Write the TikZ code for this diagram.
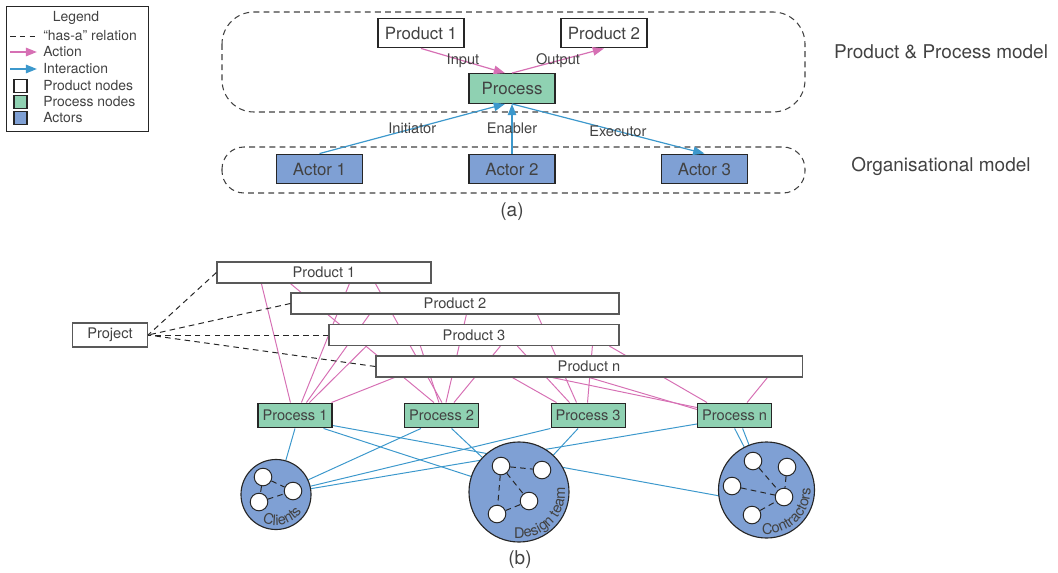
\documentclass[tikz,border=0pt]{standalone}
\usepackage{fontspec}
\setmainfont{TeX Gyre Heros}
\usetikzlibrary{arrows.meta,calc,positioning,decorations.text,backgrounds}

\definecolor{Pink}{RGB}{214,112,180}
\definecolor{Blue}{RGB}{60,152,204}
\definecolor{Green}{RGB}{143,209,178}
\definecolor{Steel}{RGB}{127,160,212}
\definecolor{Ink}{RGB}{66,66,66}

\newcommand\bigfnt{\fontsize{12}{14}\selectfont}
\newcommand\midfnt{\fontsize{10.4}{12.5}\selectfont}
\newcommand\legfnt{\fontsize{9.9}{12}\selectfont}
\newcommand\tagfnt{\fontsize{13.5}{16}\selectfont}

\tikzset{Product/.style={draw=black!85,line width=0.9pt,fill=white,minimum width=2.15cm,minimum height=0.74cm,inner sep=0pt,rectangle,text=Ink,font=\bigfnt}}
\tikzset{Process/.style={Product,fill=Green}}
\tikzset{Actor/.style={Product,fill=Steel}}
\tikzset{Bar/.style={draw=black!65,line width=0.8pt,fill=white,minimum height=0.525cm,inner sep=0pt,rectangle,text=Ink,font=\midfnt}}
\tikzset{Task/.style={draw=black!85,line width=0.8pt,fill=Green,minimum width=1.85cm,minimum height=0.62cm,inner sep=0pt,rectangle,text=Ink,font=\midfnt}}
\tikzset{Team/.style={draw=black!85,line width=0.8pt,fill=Steel,circle,inner sep=0pt}}
\tikzset{Member/.style={draw=black!85,line width=0.7pt,fill=white,circle,minimum size=0.44cm,inner sep=0pt}}
\tikzset{Group/.style={draw=black!75,dash pattern=on 4.2pt off 3pt,line width=0.75pt}}
\tikzset{Action/.style={draw=Pink,line width=0.85pt}}
\tikzset{Interaction/.style={draw=Blue,line width=0.85pt}}
\tikzset{HasA/.style={draw=black!85,dash pattern=on 4pt off 3pt,line width=0.7pt}}
\tikzset{Lbl/.style={text=Ink,font=\midfnt,inner sep=0pt}}
\tikzset{Leg/.style={text=Ink,font=\legfnt,inner sep=0pt,anchor=west}}
\tikzset{Tag/.style={text=Ink,font=\tagfnt,inner sep=0pt}}
\tikzset{Curved/.style={decorate,decoration={text along path,text align=center,text color=Ink,text={|\midfnt|#1}}}}

\begin{document}
\begin{tikzpicture}[x=0.025cm,y=-0.025cm,>={Triangle[length=8pt,width=6pt]}]
\useasboundingbox (0,0) rectangle (1058,572);

\node[draw=black!85,line width=0.7pt,minimum width=3.525cm,minimum height=3.1cm,inner sep=0pt] (leg) at (77.5,69) {};
\node[Leg,anchor=center] (legt) at (76,18) {Legend};
\node[Leg] (l1) at (43,36) {“has-a” relation};
\node[Leg] (l2) at (43,52) {Action};
\node[Leg] (l3) at (43,69) {Interaction};
\node[Leg] (l4) at (43,86) {Product nodes};
\node[Leg] (l5) at (43,102) {Process nodes};
\node[Leg] (l6) at (43,118) {Actors};
\draw[HasA] (10,36) -- +(27,0);
\draw[Action,line width=1.3pt,->] (10,52) -- +(27,0);
\draw[Interaction,line width=1.3pt,->] (10,69) -- +(27,0);
\node[draw=black!85,line width=0.8pt,fill=white,minimum size=0.325cm,inner sep=0pt] (k1) at (20.5,86) {};
\node[draw=black!85,line width=0.8pt,fill=Green,minimum size=0.325cm,inner sep=0pt] (k2) at (20.5,102) {};
\node[draw=black!85,line width=0.8pt,fill=Steel,minimum size=0.325cm,inner sep=0pt] (k3) at (20.5,118) {};

\draw[Group,rounded corners=0.8cm] (222,12) rectangle (805,112);
\draw[Group,rounded corners=0.55cm] (222,147) rectangle (805,193);

\node[Product] (p1) at (421,33) {Product 1};
\node[Product,node distance=4.575cm,right of=p1] (p2) {Product 2};
\node[Process] (pr) at (512,88.5) {Process};
\node[Actor] (a2) at (512,169) {Actor 2};
\node[Actor,node distance=4.81cm,left of=a2] (a1) {Actor 1};
\node[Actor,node distance=4.81cm,right of=a2] (a3) {Actor 3};

\draw[Action,->] (p1.south) -- node[Lbl] {Input} ($(pr.north)+(-7,0)$);
\draw[Action,->] (pr.north) -- node[Lbl] {Output} (p2.south);
\draw[Interaction,->] (a1.north) -- node[Lbl] {Initiator} ($(pr.south)+(-7,0)$);
\draw[Interaction,->] (a2.north) -- node[Lbl] {Enabler} (pr.south);
\draw[Interaction,->] (pr.south) -- node[Lbl,pos=0.55] {Executor} (a3.north);

\node[Tag] (mdl1) at (941,52) {Product \& Process model};
\node[Tag] (mdl2) at (941,166) {Organisational model};
\node[Tag] (capa) at (512,212) {(a)};

\node[Bar,minimum width=5.35cm] (q1) at (324,272.5) {Product 1};
\node[Bar,minimum width=8.2cm] (q2) at (455,303.5) {Product 2};
\node[Bar,minimum width=7.25cm] (q3) at (474,335) {Product 3};
\node[Bar,minimum width=10.65cm] (qn) at (589,366.5) {Product n};
\node[Bar,minimum width=1.875cm,minimum height=0.6cm] (proj) at (110,335) {Project};

\draw[HasA] (q1.west) -- (proj.east);
\draw[HasA] (q2.west) -- (proj.east);
\draw[HasA] (q3.west) -- (proj.east);
\draw[HasA] (qn.west) -- (proj.east);

\node[Task] (pc1) at (295,415.5) {Process 1};
\node[Task,node distance=3.6625cm,right of=pc1] (pc2) {Process 2};
\node[Task,node distance=3.6625cm,right of=pc2] (pc3) {Process 3};
\node[Task,node distance=3.6625cm,right of=pc3] (pcn) {Process n};

\node[Team,minimum size=1.75cm] (cl) at (276,494.5) {};
\node[Team,minimum size=2.5cm] (dt) at (519,492) {};
\node[Team,minimum size=2.4cm] (co) at (766.5,490) {};

\node[Member] (cl1) at ($(cl)+(-13,-17.5)$) {};
\node[Member] (cl2) at ($(cl)+(17,-3.5)$) {};
\node[Member] (cl3) at ($(cl)+(-17,7.5)$) {};
\draw[HasA] (cl1) -- (cl2);
\draw[HasA] (cl1) -- (cl3);
\draw[HasA] (cl3) -- (cl2);

\node[Member] (dt1) at ($(dt)+(-18,-26)$) {};
\node[Member] (dt2) at ($(dt)+(23,-22)$) {};
\node[Member] (dt3) at ($(dt)+(10,9)$) {};
\node[Member] (dt4) at ($(dt)+(-22,22)$) {};
\draw[HasA] (dt1) -- (dt2);
\draw[HasA] (dt1) -- (dt3);
\draw[HasA] (dt1) -- (dt4);
\draw[HasA] (dt4) -- (dt3);

\node[Member] (co1) at ($(co)+(-13.5,-29)$) {};
\node[Member] (co2) at ($(co)+(20.5,-23)$) {};
\node[Member] (co3) at ($(co)+(-34.5,-4)$) {};
\node[Member] (co4) at ($(co)+(17.5,7)$) {};
\node[Member] (co5) at ($(co)+(-14.5,25)$) {};
\foreach \m in {co1,co2,co3,co5}
  \draw[HasA] (\m) -- (co4);

\path[Curved=Clients] ($(cl)+(-140:0.775cm)$) arc[start angle=-140,end angle=-10,radius=0.775cm];
\path[Curved=Design team] ($(dt)+(-110:1.15cm)$) arc[start angle=-110,end angle=20,radius=1.15cm];
\path[Curved=Contractors] ($(co)+(-115:1.1cm)$) arc[start angle=-115,end angle=22,radius=1.1cm];

\node[Tag] (capb) at (520,560) {(b)};

\begin{pgfonlayer}{background}
\foreach \s/\a/\t/\b in {q1/45/pc1/33,q1/74/pc2/30,q1/133/pc1/44,q1/159/pc2/38,q2/79/pc1/49,q2/176/pc2/42,q2/247/pc3/26,q3/38/pc1/52,q3/92/pc2/35,q3/172/pc2/50,q3/189/pc3/19,q3/264/pc3/37,q3/281/pcn/10,qn/19/pc1/74,qn/137/pc3/6,qn/392/pcn/50}
  \draw[Action,line width=0.7pt] ($(\s.south west)+(\a,0)$) -- ($(\t.north west)+(\b,0)$);
\draw[Action,line width=0.7pt] ($(qn.south west)+(177,0)$) -- ($(pcn.north west)+(0,5)$);
\draw[Action,line width=0.7pt] ($(qn.south west)+(214,0)$) -- ($(pcn.north west)+(0,7)$);

\draw[Interaction,line width=0.7pt] (pc1.south) -- (cl);
\draw[Interaction,line width=0.7pt] ($(pc1.south east)+(-9,0)$) -- (dt);
\draw[Interaction,line width=0.7pt] ($(pc1.south east)+(0,-3)$) -- ($(co.west)+(2,6)$);
\draw[Interaction,line width=0.7pt] ($(pc2.south west)+(17,0)$) -- (cl);
\draw[Interaction,line width=0.7pt] ($(pc2.south)+(10,0)$) -- (dt);
\draw[Interaction,line width=0.7pt] (pc3.south west) -- (cl);
\draw[Interaction,line width=0.7pt] ($(pc3.south)+(-10,0)$) -- (dt);
\draw[Interaction,line width=0.7pt] ($(pcn.south west)+(3,-5)$) -- (cl);
\draw[Interaction,line width=0.7pt] (pcn.south) -- (co);
\draw[Interaction,line width=0.7pt] ($(pcn.south)+(8,0)$) -- (co);
\end{pgfonlayer}

\end{tikzpicture}
\end{document}
